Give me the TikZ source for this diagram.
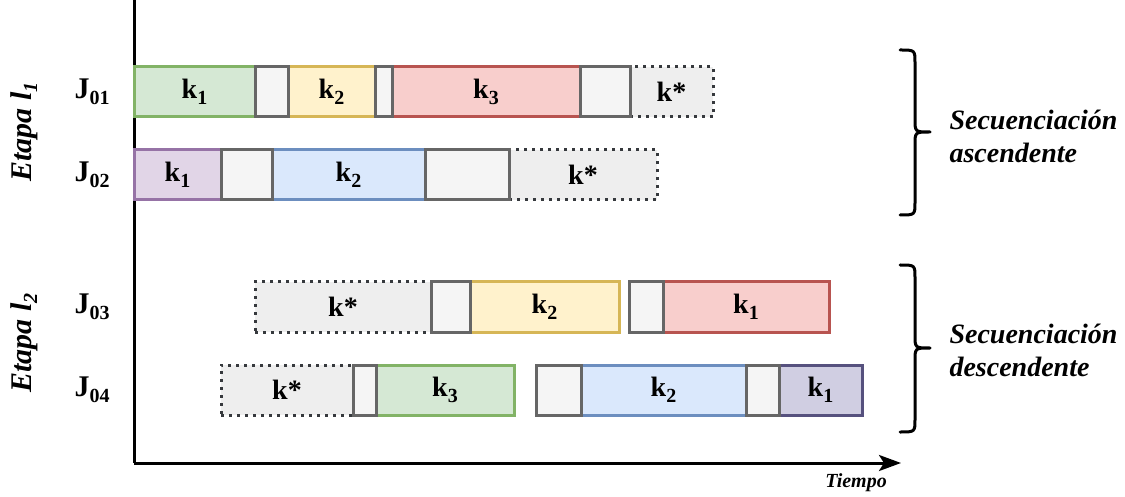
\documentclass[tikz,border=0pt]{standalone}
\usepackage{fontspec}
\setmainfont{Liberation Serif}
\usetikzlibrary{arrows.meta}

\definecolor{gFill}{HTML}{D5E8D4}\definecolor{gLine}{HTML}{82B366}
\definecolor{yFill}{HTML}{FFF2CC}\definecolor{yLine}{HTML}{D6B656}
\definecolor{rFill}{HTML}{F8CECC}\definecolor{rLine}{HTML}{B85450}
\definecolor{pFill}{HTML}{E1D5E7}\definecolor{pLine}{HTML}{9673A6}
\definecolor{bFill}{HTML}{DAE8FC}\definecolor{bLine}{HTML}{6C8EBF}
\definecolor{vFill}{HTML}{D0CEE2}\definecolor{vLine}{HTML}{56517E}
\definecolor{sFill}{HTML}{F5F5F5}\definecolor{sLine}{HTML}{666666}
\definecolor{kFill}{HTML}{EEEEEE}\definecolor{kLine}{HTML}{36393D}

% lowered index used in the job and task labels
\newcommand\lowidx[1]{\raisebox{-6pt}{\fontsize{20}{20}\selectfont #1}}
% one bar segment: [style]{name}{x from}{x to}{y centre}{text}
\newcommand\blk[6][]{\node[blk,#1,minimum width={(#4-#3)*1pt}] (#2) at ({(#3+#4)/2},#5) {#6};}

\tikzset{
  blk/.style={draw, line width=3pt, minimum height=50pt, inner sep=0pt,
    font=\fontsize{28}{28}\selectfont\bfseries},
  green/.style={fill=gFill, draw=gLine},
  yellow/.style={fill=yFill, draw=yLine},
  red/.style={fill=rFill, draw=rLine},
  purple/.style={fill=pFill, draw=pLine},
  blue/.style={fill=bFill, draw=bLine},
  violet/.style={fill=vFill, draw=vLine},
  setup/.style={fill=sFill, draw=sLine},
  idle/.style={fill=kFill, draw=kLine, dash pattern=on 3pt off 5pt},
  joblbl/.style={font=\fontsize{30}{30}\selectfont\bfseries},
  stagelbl/.style={rotate=90, font=\fontsize{30}{30}\selectfont\bfseries\itshape},
  seqlbl/.style={align=left, anchor=west,
    font=\fontsize{28}{33}\selectfont\bfseries\itshape},
  bracket/.style={line width=3pt, line cap=round, line join=round},
  axis/.style={line width=3pt}
}

\begin{document}
\begin{tikzpicture}[x=1pt, y=-1pt]
\useasboundingbox (0,0) rectangle (1125,497);

% axes
\coordinate (top) at (134,0);
\coordinate (origin) at (134,463);
\coordinate (tend) at (901,463);
\draw[axis] (top) -- (origin);
\draw[axis, -{Stealth[length=22pt, width=16pt, inset=5pt]}] (origin) -- (tend);
\node[font=\fontsize{20}{20}\selectfont\bfseries\itshape] (tiempo) at (856,483) {Tiempo};

% job J01
\blk[green]{a1}{134}{255}{92}{k\lowidx{1}}
\blk[yellow]{a3}{288}{375}{92}{k\lowidx{2}}
\blk[red]{a5}{392}{580}{92}{k\lowidx{3}}
\blk[idle]{a7}{630}{713}{92}{k*}
\blk[setup]{a2}{255}{288}{92}{}
\blk[setup]{a4}{375}{392}{92}{}
\blk[setup]{a6}{580}{630}{92}{}

% job J02
\blk[purple]{b1}{134}{221}{175}{k\lowidx{1}}
\blk[blue]{b3}{272}{425}{175}{k\lowidx{2}}
\blk[idle]{b5}{509}{657}{175}{k*}
\blk[setup]{b2}{221}{272}{175}{}
\blk[setup]{b4}{425}{509}{175}{}

% job J03
\blk[idle]{c1}{255}{431}{307}{k*}
\blk[yellow]{c3}{470}{619}{307}{k\lowidx{2}}
\blk[red]{c5}{663}{829}{307}{k\lowidx{1}}
\blk[setup]{c2}{431}{470}{307}{}
\blk[setup]{c4}{629}{663}{307}{}

% job J04
\blk[idle]{d1}{221}{353}{390}{k*}
\blk[green]{d3}{376}{514}{390}{k\lowidx{3}}
\blk[blue]{d5}{581}{746}{390}{k\lowidx{2}}
\blk[violet]{d7}{779}{862}{390}{k\lowidx{1}}
\blk[setup]{d2}{353}{376}{390}{}
\blk[setup]{d4}{536}{581}{390}{}
\blk[setup]{d6}{746}{779}{390}{}

% job labels
\node[joblbl] (j1) at (92,92) {J\lowidx{01}};
\node[joblbl] (j2) at (92,175) {J\lowidx{02}};
\node[joblbl] (j3) at (92,307) {J\lowidx{03}};
\node[joblbl] (j4) at (92,390) {J\lowidx{04}};

% stage labels
\node[stagelbl] (e1) at (24,132) {Etapa l\lowidx{1}};
\node[stagelbl] (e2) at (24,343) {Etapa l\lowidx{2}};

% brackets and sequencing labels
\draw[bracket] (900,50) .. controls (915,50) .. (915,63) -- (915,119)
  .. controls (915,132) .. (930,132) .. controls (915,132) .. (915,145)
  -- (915,202) .. controls (915,215) .. (900,215);
\draw[bracket] (900,265) .. controls (915,265) .. (915,278) -- (915,335)
  .. controls (915,348) .. (930,348) .. controls (915,348) .. (915,361)
  -- (915,419) .. controls (915,432) .. (900,432);
\node[seqlbl] (s1) at (946,136) {Secuenciación\\ascendente};
\node[seqlbl] (s2) at (946,350) {Secuenciación\\descendente};
\end{tikzpicture}
\end{document}
